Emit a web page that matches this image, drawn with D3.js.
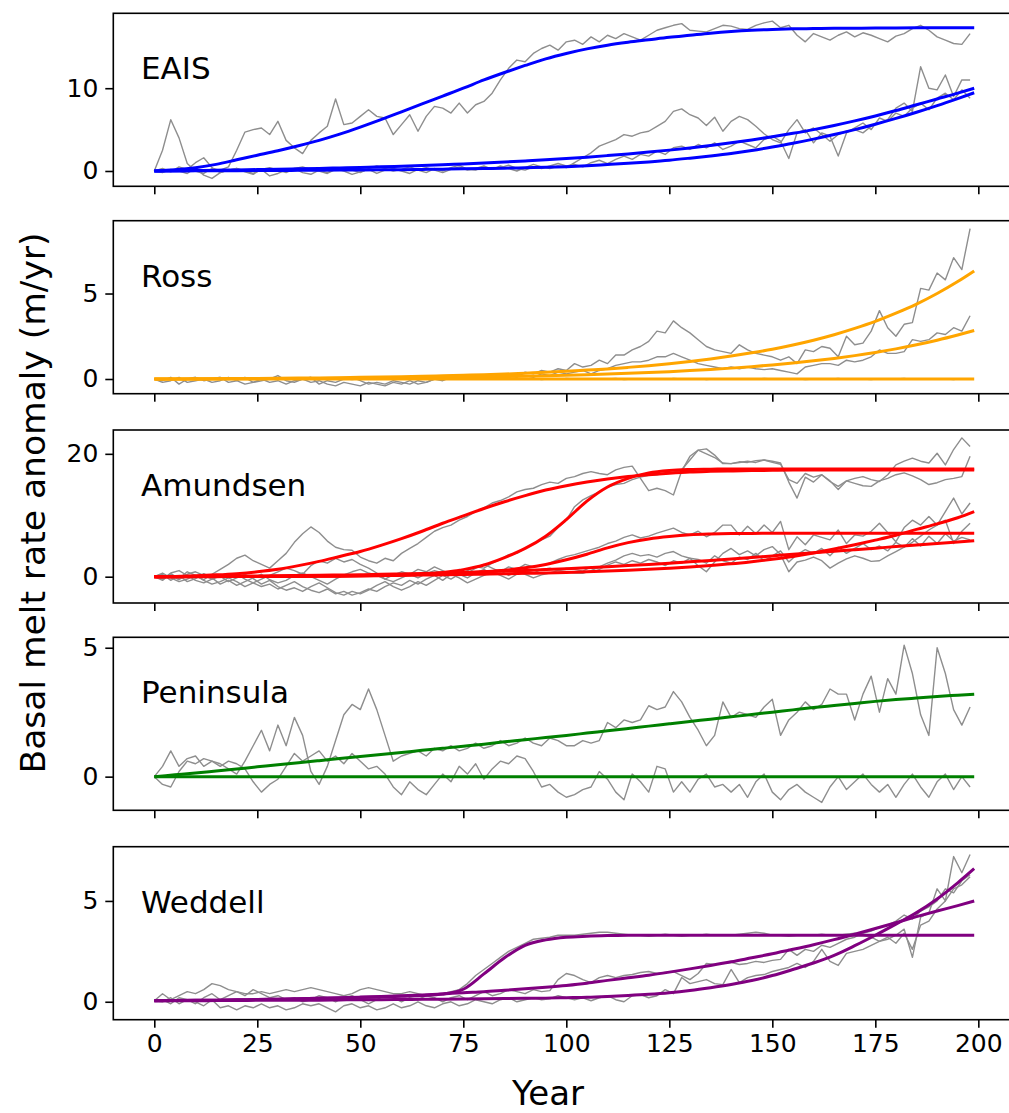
<!DOCTYPE html>
<html>
<head>
<meta charset="utf-8">
<script src="https://cdn.jsdelivr.net/npm/d3@7"></script>
<style>
  body { margin: 0; background: #fff; }
  svg { display: block; font-family: "DejaVu Sans", sans-serif; }
</style>
</head>
<body>
<svg id="chart" width="1009" height="1113"></svg>
<script>
// ---------------------------------------------------------------------------
// Basal melt rate anomaly (m/yr) per Antarctic region: annual model output
// (grey, sampled every second year) and fitted response curves (coloured).
// ---------------------------------------------------------------------------

const regions = ["EAIS", "Ross", "Amundsen", "Peninsula", "Weddell"];
const regionColors = ["#0000ff", "#ffa500", "#ff0000", "#008000", "#800080"];
const yTickValues = [[0, 10], [0, 5], [0, 20], [0, 5], [0, 5]];
const xTickValues = [0, 25, 50, 75, 100, 125, 150, 175, 200];

// sampling years of the grey series and of the fitted curves
const seriesYears = d3.range(0, 200, 2);
const fitYears = [0, 5, 10, 15, 20, 25, 30, 35, 40, 45, 50, 55, 60, 65, 70, 75, 80, 85, 90, 95,
  100, 105, 110, 115, 120, 125, 130, 135, 140, 145, 150, 155, 160, 165, 170, 175, 180, 185, 190, 195, 199];

// ---- EAIS ----
const eaisObs1 = [
  0.0, 2.5, 6.2, 4.0, 0.9, 0.0, -0.3, 0.3, 0.1, 0.5,
  2.5, 4.7, 5.0, 5.2, 4.4, 6.0, 3.7, 2.8, 2.1, 3.7,
  4.6, 5.4, 8.7, 5.6, 5.8, 6.6, 7.4, 6.6, 6.4, 4.4,
  5.6, 6.8, 4.8, 6.6, 7.8, 7.6, 7.0, 8.2, 7.0, 8.0,
  8.4, 9.4, 11.0, 12.4, 13.4, 13.2, 14.2, 14.8, 15.2, 14.6,
  15.6, 15.8, 15.3, 16.2, 15.6, 16.4, 16.0, 16.6, 16.2, 15.8,
  16.4, 17.0, 17.3, 17.6, 17.8, 17.0, 16.9, 16.8, 17.2, 17.6,
  17.5, 17.2, 17.1, 17.6, 17.9, 18.1, 17.3, 17.6, 16.4, 15.6,
  16.6, 16.2, 15.8, 16.4, 16.8, 16.2, 16.7, 16.4, 16.0, 15.6,
  16.3, 16.6, 17.2, 17.6, 17.0, 16.2, 15.8, 15.4, 15.3, 16.6];
const eaisObs2 = [
  0.0, 0.3, -0.1, 0.5, 0.2, 1.0, 1.6, 0.4, -0.2, 0.1,
  0.3, 0.0, -0.3, 0.2, 0.4, 0.1, -0.2, 0.3, 0.5, 0.2,
  0.0, -0.3, 0.2, 0.4, 0.1, -0.2, 0.3, 0.6, 0.3, 0.0,
  0.2, 0.5, 0.1, -0.2, 0.3, 0.0, 0.4, 0.7, 0.2, 0.1,
  0.5, 0.2, 0.6, 0.3, 0.0, 0.4, 0.8, 0.5, 0.3, 0.6,
  0.4, 1.0, 1.6, 2.2, 3.0, 3.4, 3.8, 4.4, 4.2, 4.6,
  4.8, 5.4, 6.0, 7.2, 7.5, 6.8, 6.4, 5.5, 6.5, 4.8,
  6.0, 6.6, 6.2, 5.4, 4.5, 3.8, 3.4, 5.0, 6.2, 4.6,
  5.2, 4.4, 3.6, 4.4, 4.8, 5.0, 4.6, 5.4, 5.8, 6.2,
  7.6, 8.2, 7.2, 12.6, 10.0, 9.8, 11.6, 9.0, 11.0, 11.0];
const eaisObs3 = [
  0.0, -0.2, 0.2, 0.0, -0.3, 0.4, -0.5, -0.9, -0.2, 0.1,
  0.3, -0.1, -0.4, 0.2, -0.6, -0.3, 0.1, 0.3, -0.2, -0.4,
  0.1, -0.2, 0.3, 0.0, -0.4, -0.1, 0.2, -0.3, 0.1, 0.3,
  0.0, -0.3, 0.2, 0.4, 0.1, -0.2, 0.2, 0.5, 0.1, 0.3,
  0.6, 0.2, 0.4, 0.7, 0.3, 0.1, 0.5, 0.3, 0.6, 0.9,
  0.6, 0.8, 0.5, 1.0, 1.3, 0.9, 1.4, 1.8, 1.4, 2.0,
  1.8, 2.4, 2.0, 2.8, 3.0, 2.6, 3.2, 2.8, 3.4, 2.6,
  3.0, 3.6, 3.2, 2.8, 3.8, 4.2, 3.6, 1.5, 4.6, 5.0,
  3.4, 4.6, 4.2, 1.8, 4.6, 5.2, 5.8, 5.0, 6.4, 6.0,
  7.0, 6.6, 7.6, 8.2, 7.4, 8.8, 9.4, 8.6, 9.8, 8.8];
const eaisFit1 = [0, 0.15, 0.4, 0.8, 1.35, 1.9, 2.45, 3.05, 3.7, 4.45,
  5.3, 6.2, 7.15, 8.1, 9.05, 10.0, 11.0, 11.9, 12.75, 13.55,
  14.2, 14.75, 15.2, 15.55, 15.85, 16.15, 16.4, 16.65, 16.85, 17.0,
  17.1, 17.17, 17.2, 17.23, 17.25, 17.27, 17.28, 17.29, 17.3, 17.3, 17.3];
const eaisFit2 = [0, 0.03, 0.06, 0.09, 0.13, 0.17, 0.21, 0.26, 0.31, 0.37,
  0.43, 0.5, 0.58, 0.66, 0.75, 0.85, 0.96, 1.08, 1.21, 1.35,
  1.5, 1.67, 1.86, 2.06, 2.28, 2.52, 2.79, 3.08, 3.4, 3.75,
  4.13, 4.55, 5.0, 5.5, 6.05, 6.65, 7.3, 8.0, 8.7, 9.4, 10.0];
const eaisFit3 = [0, 0.01, 0.02, 0.03, 0.04, 0.05, 0.06, 0.075, 0.09, 0.105,
  0.12, 0.14, 0.16, 0.19, 0.22, 0.26, 0.3, 0.34, 0.39, 0.44,
  0.52, 0.63, 0.78, 0.93, 1.1, 1.3, 1.55, 1.82, 2.12, 2.48,
  2.9, 3.35, 3.85, 4.4, 5.0, 5.65, 6.35, 7.1, 7.9, 8.75, 9.45];

// ---- Ross ----
const rossObs1 = [
  0, -0.1, 0.1, -0.3, 0.0, 0.1, -0.1, 0.0, 0.1, -0.2,
  -0.1, 0.1, -0.2, -0.1, 0.0, 0.2, -0.1, -0.2, 0.0, 0.1,
  -0.3, -0.1, -0.2, 0.0, 0.1, -0.1, -0.3, -0.2, -0.3, -0.1,
  -0.2, -0.3, -0.1, -0.2, 0.0, 0.0, 0.1, 0.0, 0.2, 0.1,
  0.2, 0.1, 0.3, 0.2, 0.1, 0.4, 0.3, 0.5, 0.4, 0.6,
  0.5, 0.9, 0.7, 0.8, 1.1, 0.9, 1.4, 1.4, 1.7, 1.9,
  2.2, 2.8, 2.7, 3.4, 3.0, 2.7, 2.3, 1.9, 1.7, 1.6,
  1.5, 2.0, 1.7, 1.5, 1.4, 1.3, 1.1, 1.3, 0.9, 1.7,
  1.6, 1.9, 1.8, 1.3, 2.5, 2.0, 2.1, 2.8, 4.0, 3.0,
  2.5, 3.2, 3.3, 5.3, 5.2, 6.2, 5.8, 7.1, 6.4, 8.8];
const rossObs2 = [
  0, -0.2, -0.1, 0.1, -0.2, -0.1, 0.0, -0.2, -0.1, 0.1,
  -0.1, -0.3, -0.2, 0.0, -0.2, -0.1, -0.3, -0.1, 0.0, -0.2,
  -0.1, -0.3, -0.4, -0.2, -0.3, -0.4, -0.2, -0.3, -0.4, -0.2,
  -0.3, -0.1, -0.3, -0.2, 0.0, -0.1, 0.1, 0.0, 0.1, 0.2,
  0.1, 0.0, 0.2, 0.1, 0.3, 0.2, 0.1, 0.3, 0.2, 0.4,
  0.3, 0.4, 0.5, 0.3, 0.5, 0.6, 0.8, 0.9, 1.0, 1.0,
  1.1, 1.3, 1.3, 1.5, 1.3, 1.1, 0.9, 0.8, 0.7, 0.6,
  0.7, 0.6, 0.7, 0.6, 0.55, 0.6, 0.5, 0.4, 0.3, 0.7,
  0.8, 0.9, 0.9, 0.8, 1.1, 1.0, 1.1, 1.3, 1.7, 1.5,
  1.5, 1.6, 2.3, 2.2, 2.3, 2.7, 2.6, 3.0, 2.8, 3.7];
const rossObs3 = [
  0, 0.02, -0.03, 0.01, -0.02, 0.03, 0, -0.01, 0.02, -0.03,
  0.01, 0.03, -0.02, 0, 0.02, -0.01, -0.03, 0.01, 0.02, -0.02,
  0, 0.03, -0.01, 0.01, -0.03, 0.02, 0, -0.02, 0.01, 0.03,
  -0.01, 0.02, -0.02, 0, 0.03, -0.03, 0.01, 0.02, -0.01, 0,
  0.02, -0.02, 0.01, 0.03, -0.01, 0, 0.02, -0.03, 0.01, -0.02,
  0.03, 0, -0.01, 0.02, -0.02, 0.01, 0.03, -0.03, 0, 0.02,
  -0.01, 0.01, -0.02, 0.03, 0, -0.01, 0.02, -0.03, 0.01, 0,
  0.02, -0.02, 0.01, -0.01, 0.03, 0, -0.02, 0.02, 0.01, -0.03,
  0, 0.02, -0.01, 0.03, -0.02, 0.01, 0, -0.03, 0.02, -0.01,
  0.01, 0.03, -0.02, 0, 0.02, -0.01, 0.01, -0.03, 0.02, 0];
const rossFit1 = [0, 0.005, 0.01, 0.02, 0.025, 0.035, 0.045, 0.055, 0.065, 0.08,
  0.1, 0.115, 0.135, 0.16, 0.19, 0.22, 0.25, 0.29, 0.34, 0.39,
  0.45, 0.52, 0.59, 0.68, 0.78, 0.89, 1.02, 1.17, 1.34, 1.53,
  1.74, 1.99, 2.27, 2.59, 2.96, 3.37, 3.85, 4.38, 5.0, 5.7, 6.32];
const rossFit2 = [0, 0.003, 0.006, 0.009, 0.013, 0.017, 0.022, 0.028, 0.034, 0.041,
  0.049, 0.058, 0.069, 0.081, 0.094, 0.109, 0.126, 0.146, 0.168, 0.193,
  0.221, 0.253, 0.29, 0.331, 0.378, 0.431, 0.491, 0.559, 0.636, 0.723,
  0.822, 0.934, 1.061, 1.205, 1.368, 1.553, 1.763, 2.0, 2.269, 2.574, 2.837];
const rossFit3 = [0, 0, 0, 0, 0, 0, 0, 0, 0, 0,
  0, 0, 0, 0, 0, 0, 0, 0, 0, 0,
  0, 0, 0, 0, 0, 0, 0, 0, 0, 0,
  0, 0, 0, 0, 0, 0, 0, 0, 0, 0, 0];

// ---- Amundsen ----
const amundsenObs1 = [
  0, -0.6, 0.5, -0.3, 0.8, 0.2, -0.5, 0.4, 1.2, 2.0,
  3.0, 3.5, 2.6, 2.0, 1.4, 2.6, 3.8, 5.6, 7.0, 8.1,
  7.2, 5.8, 4.8, 4.4, 4.3, 3.2, 2.6, 2.2, 3.0, 2.6,
  3.8, 4.6, 5.4, 6.4, 7.4, 8.0, 8.4, 9.2, 9.8, 10.6,
  11.2, 12.0, 12.4, 13.0, 13.8, 14.2, 14.4, 15.0, 15.4, 15.2,
  16.0, 16.3, 16.8, 17.1, 16.8, 16.6, 17.4, 17.8, 18.0, 16.0,
  14.0, 14.4, 14.0, 13.3, 17.2, 19.6, 20.6, 20.8, 19.8, 18.4,
  18.4, 18.6, 18.8, 18.6, 19.0, 18.8, 18.5, 15.4, 12.8, 16.2,
  15.4, 16.6, 15.6, 14.2, 15.6, 16.0, 16.3, 15.8, 15.5, 16.6,
  18.2, 18.8, 19.3, 18.8, 18.5, 20.1, 18.2, 20.7, 22.6, 21.2];
const amundsenObs2 = [
  0, 0.4, -0.6, 0.2, -0.8, -0.3, 0.5, -0.2, -1.2, -0.6,
  -1.4, -0.8, -0.2, 0.4, -0.5, -1.0, -0.6, 0.2, 0.6, 0.0,
  -0.6, -1.2, -0.4, 0.3, 0.8, 1.2, 0.6, 0.2, -0.4, 0.3,
  0.8, 0.4, -0.2, 0.5, 1.0, 0.6, 0.5, 0.2, 1.0, 1.6,
  1.4, 2.2, 2.8, 3.6, 3.8, 4.6, 5.4, 6.0, 6.6, 8.0,
  9.2, 11.4, 12.5, 13.2, 13.8, 14.6, 15.0, 15.2, 15.8, 16.2,
  16.5, 16.6, 16.9, 17.0, 17.4, 19.0, 20.6, 20.0, 19.4, 18.5,
  18.4, 18.7, 18.6, 18.9, 19.0, 18.6, 18.3, 15.8, 15.2, 16.8,
  16.2, 16.6, 15.5, 14.7, 15.6, 15.2, 14.8, 14.7, 15.6, 16.0,
  16.6, 16.9, 16.4, 15.8, 15.0, 15.3, 15.8, 16.0, 16.3, 19.6];
const amundsenObs3 = [
  0, -0.4, 0.6, 1.0, 0.2, -0.6, -1.0, -0.4, 0.3, -0.2,
  -0.8, -1.6, -1.0, -0.4, 0.2, 0.8, 1.4, 1.0, 0.4, 1.8,
  2.6, 2.2, 3.0, 2.4, 2.8, 2.0, 1.4, 0.6, -0.4, -0.8,
  -0.2, 0.4, 1.2, 0.8, 1.6, 1.0, 0.4, 1.2, 0.6, 1.4,
  2.0, 1.4, 0.8, 1.6, 1.2, 2.0, 1.6, 1.8, 2.2, 2.8,
  3.3, 3.6, 4.0, 4.4, 4.8, 5.4, 5.8, 6.4, 6.8, 6.3,
  6.6, 7.1, 7.5, 7.9, 7.2, 6.8, 7.4, 6.5, 7.2, 8.4,
  8.4, 6.8, 8.2, 7.0, 8.4, 7.2, 9.0, 4.4, 6.5, 5.2,
  6.8, 6.4, 6.0, 7.6, 5.4, 6.8, 6.6, 7.4, 8.7, 7.2,
  5.7, 8.0, 9.2, 8.4, 9.8, 8.4, 10.6, 12.8, 10.2, 12.0];
const amundsenObs4 = [
  0, 0.6, -0.2, -0.8, -0.4, 0.2, -0.6, -1.2, -0.8, -0.2,
  0.4, -0.4, -1.0, -1.6, -1.2, -2.0, -1.4, -0.8, -1.6, -2.2,
  -2.6, -2.0, -2.8, -2.4, -3.0, -2.6, -2.0, -2.4, -1.6, -1.0,
  -1.4, -0.6, -1.2, -0.4, 0.2, -0.6, 0.4, -0.2, -1.0, -0.4,
  0.2, 0.8, 0.2, -0.4, 0.4, 1.0, 0.6, 1.2, 1.4, 1.0,
  0.8, 0.6, 0.55, 1.0, 1.6, 2.2, 2.7, 3.4, 3.8, 3.4,
  3.6, 3.2, 3.8, 4.1, 3.4, 3.0, 1.8, 0.8, 2.4, 3.8,
  4.6, 3.6, 4.2, 3.4, 4.4, 4.9, 3.6, 0.8, 2.4, 2.7,
  3.2, 2.6, 1.4, 2.2, 2.9, 3.4, 3.0, 2.5, 2.6, 3.4,
  4.1, 4.8, 5.6, 6.6, 7.6, 8.4, 9.2, 5.4, 7.4, 8.7];
const amundsenObs5 = [
  0, -0.3, 0.3, -0.5, 0.4, 0.8, 0.2, -0.4, 0.1, -0.8,
  -0.2, 0.4, -0.3, -1.2, -0.6, -1.6, -2.2, -1.8, -2.4, -1.6,
  -1.0, -1.8, -2.6, -3.0, -2.4, -2.8, -2.2, -1.4, -0.8, -1.6,
  -2.2, -1.6, -0.8, -1.4, -0.6, 0.2, -0.4, 0.4, -0.2, 0.6,
  1.2, 0.4, 1.0, 0.2, 0.8, 0.4, -0.2, 0.3, 0.6, 1.0,
  1.4, 1.2, 0.9, 1.6, 1.2, 1.9, 2.4, 2.0, 2.6, 2.2,
  2.8, 2.4, 1.8, 2.6, 2.2, 3.0, 2.8, 2.2, 3.4, 2.6,
  2.2, 3.2, 2.8, 3.8, 2.6, 3.4, 4.2, 2.4, 3.6, 4.4,
  3.8, 4.6, 3.4, 4.8, 3.8, 4.6, 5.4, 4.4, 5.0, 4.2,
  5.6, 4.8, 6.2, 5.0, 6.6, 5.4, 7.0, 5.8, 6.4, 6.0];
const amundsenFit1 = [0, 0.05, 0.15, 0.3, 0.5, 0.8, 1.2, 1.8, 2.5, 3.3,
  4.1, 5.1, 6.2, 7.4, 8.7, 9.9, 11.1, 12.2, 13.2, 14.1,
  14.8, 15.4, 15.9, 16.3, 16.6, 16.85, 17.05, 17.15, 17.22, 17.28,
  17.32, 17.35, 17.35, 17.35, 17.35, 17.35, 17.35, 17.35, 17.35, 17.35, 17.35];
const amundsenFit2 = [0, 0, 0.01, 0.01, 0.02, 0.03, 0.04, 0.05, 0.07, 0.09,
  0.12, 0.17, 0.26, 0.42, 0.7, 1.15, 1.9, 3.1, 4.6, 6.6,
  9.3, 12.3, 14.6, 16.0, 16.9, 17.3, 17.45, 17.5, 17.55, 17.55,
  17.55, 17.55, 17.55, 17.55, 17.55, 17.55, 17.55, 17.55, 17.55, 17.55, 17.55];
const amundsenFit3 = [0, 0.01, 0.02, 0.03, 0.04, 0.05, 0.07, 0.09, 0.11, 0.14,
  0.18, 0.23, 0.29, 0.37, 0.47, 0.6, 0.8, 1.05, 1.45, 2.0,
  2.75, 3.65, 4.7, 5.55, 6.15, 6.55, 6.82, 6.95, 7.02, 7.05,
  7.06, 7.07, 7.07, 7.07, 7.07, 7.07, 7.07, 7.07, 7.07, 7.07, 7.07];
const amundsenFit4 = [0, 0.01, 0.02, 0.03, 0.04, 0.05, 0.06, 0.08, 0.1, 0.12,
  0.15, 0.18, 0.22, 0.26, 0.31, 0.36, 0.42, 0.48, 0.55, 0.62,
  0.7, 0.8, 0.92, 1.05, 1.2, 1.38, 1.58, 1.82, 2.1, 2.45,
  2.85, 3.3, 3.85, 4.5, 5.2, 5.95, 6.75, 7.7, 8.6, 9.6, 10.6];
const amundsenFit5 = [0, 0.02, 0.04, 0.06, 0.09, 0.12, 0.15, 0.19, 0.23, 0.28,
  0.33, 0.39, 0.46, 0.53, 0.61, 0.7, 0.8, 0.91, 1.03, 1.16,
  1.3, 1.46, 1.63, 1.81, 2.0, 2.2, 2.42, 2.65, 2.89, 3.14,
  3.39, 3.64, 3.9, 4.15, 4.4, 4.65, 4.9, 5.15, 5.4, 5.65, 5.87];

// ---- Peninsula ----
const peninsulaObs1 = [
  0, 0.4, 1.0, 0.4, 0.7, 0.8, 0.4, 0.6, 0.5, 0.3,
  0.1, 0.6, 1.2, 1.8, 1.0, 2.0, 1.2, 2.3, 1.6, 0.2,
  -0.3, 0.4, 1.4, 2.4, 2.8, 2.6, 3.4, 2.6, 1.6, 0.6,
  0.8, 0.9, 1.0, 0.8, 1.1, 1.0, 1.2, 1.0, 1.1, 1.3,
  1.1, 1.2, 1.4, 1.2, 1.3, 1.5, 1.3, 1.2, 1.5, 1.4,
  1.2, 1.2, 1.4, 1.3, 1.4, 2.1, 1.9, 2.2, 2.1, 2.2,
  2.75, 2.6, 2.7, 3.3, 2.9, 2.3, 1.8, 1.2, 1.6, 2.9,
  2.3, 2.5, 2.4, 2.3, 2.7, 3.0, 1.6, 2.2, 2.5, 2.9,
  2.6, 2.8, 3.4, 3.2, 3.2, 2.2, 3.2, 3.9, 2.5, 3.8,
  3.2, 5.1, 4.0, 2.4, 1.6, 5.0, 4.0, 2.6, 2.0, 2.7];
const peninsulaObs2 = [
  0, -0.3, -0.4, 0.2, 0.6, 0.5, 0.7, 0.6, 0.4, 0.6,
  0.5, 0.3, -0.2, -0.6, -0.3, -0.1, 0.4, 0.9, 0.6, 0.8,
  1.0, 0.6, 0.8, 0.5, 0.9, 0.6, 0.3, 0.4, 0.1, -0.4,
  -0.7, -0.2, -0.5, -0.7, -0.3, 0.1, -0.2, 0.4, 0.1, 0.5,
  -0.1, 0.3, 0.6, 0.5, 0.8, 0.7, 0.2, -0.4, -0.3, -0.6,
  -0.8, -0.7, -0.5, -0.4, 0.2, -0.1, -0.6, -0.9, 0.1, -0.2,
  -0.6, 0.4, 0.3, -0.6, -0.2, -0.6, -0.1, 0.1, -0.4, -0.3,
  -0.6, -0.3, -0.8, -0.2, 0.1, -0.6, -0.9, -0.5, -0.3, -0.6,
  -0.8, -1.0, -0.4, 0.0, -0.5, -0.2, 0.1, -0.3, -0.6, -0.3,
  -0.8, -0.3, 0.1, -0.4, -0.8, -0.2, 0.1, -0.5, 0.0, -0.4];
const peninsulaFit1 = [0, 0.07, 0.14, 0.22, 0.3, 0.38, 0.46, 0.54, 0.62, 0.7,
  0.78, 0.86, 0.94, 1.02, 1.1, 1.18, 1.26, 1.35, 1.43, 1.52,
  1.6, 1.69, 1.78, 1.87, 1.96, 2.05, 2.14, 2.23, 2.32, 2.41,
  2.5, 2.59, 2.68, 2.76, 2.84, 2.92, 2.99, 3.05, 3.11, 3.16, 3.2];
const peninsulaFit2 = [0, 0, 0, 0, 0, 0, 0, 0, 0, 0,
  0, 0, 0, 0, 0, 0, 0, 0, 0, 0,
  0, 0, 0, 0, 0, 0, 0, 0, 0, 0,
  0, 0, 0, 0, 0, 0, 0, 0, 0, 0, 0];

// ---- Weddell ----
const weddellObs1 = [
  0.05, 0.4, 0.1, 0.3, 0.5, 0.4, 0.6, 0.9, 0.8, 0.6,
  0.5, 0.4, 0.4, 0.5, 0.4, 0.5, 0.6, 0.5, 0.6, 0.7,
  0.6, 0.5, 0.4, 0.3, 0.4, 0.6, 0.7, 0.6, 0.5, 0.4,
  0.4, 0.5, 0.4, 0.3, 0.4, 0.4, 0.5, 0.6, 0.9, 1.3,
  1.6, 1.9, 2.2, 2.5, 2.7, 2.9, 3.1, 3.15, 3.2, 3.3,
  3.3, 3.3, 3.35, 3.4, 3.45, 3.45, 3.4, 3.35, 3.3, 3.3,
  3.25, 3.3, 3.35, 3.3, 3.25, 3.3, 3.3, 3.35, 3.3, 3.3,
  3.3, 3.35, 3.4, 3.45, 3.4, 3.3, 3.3, 3.25, 3.3, 3.3,
  3.3, 3.35, 3.3, 3.3, 3.35, 3.4, 3.3, 3.2, 3.0, 3.2,
  2.9, 3.4, 2.6, 3.8, 4.0, 4.6, 5.0, 5.6, 5.8, 6.2];
const weddellObs2 = [
  0.05, 0.1, -0.1, 0.2, 0.1, -0.1, 0.2, 0.4, 0.1, 0.3,
  0.5, 0.3, 0.6, 0.4, 0.2, 0.3, 0.1, 0.2, 0.0, 0.1,
  0.3, 0.2, 0.0, 0.2, 0.3, 0.1, -0.1, 0.1, 0.3, 0.2,
  0.0, 0.2, 0.1, 0.3, 0.2, 0.0, 0.2, 0.3, 0.1, 0.3,
  0.5, 0.3, 0.4, 0.6, 0.5, 0.4, 0.6, 0.5, 0.55, 1.1,
  1.4, 1.3, 1.1, 0.95, 1.2, 1.3, 1.2, 1.3, 1.35, 1.45,
  1.5, 1.4, 1.45, 1.5, 1.3, 1.1, 1.4, 1.9, 1.85, 1.9,
  1.95, 1.85, 1.9, 2.0, 1.95, 2.05, 2.1, 2.6, 2.3, 2.6,
  2.5, 2.8, 2.7, 2.9, 3.1, 3.2, 3.4, 3.5, 3.7, 3.8,
  4.0, 4.3, 4.1, 4.5, 4.7, 5.0, 5.6, 5.4, 6.0, 6.3];
const weddellObs3 = [
  0.05, 0.0, 0.2, -0.1, 0.1, 0.0, -0.2, 0.1, -0.3, -0.2,
  -0.4, -0.2, -0.3, -0.1, -0.3, -0.2, -0.4, -0.3, -0.1, -0.2,
  -0.1, -0.3, -0.5, -0.2, -0.1, -0.3, -0.2, -0.4, -0.3, -0.1,
  -0.3, -0.2, 0.0, -0.2, -0.3, -0.1, 0.0, -0.2, -0.1, 0.1,
  0.0, -0.1, 0.1, 0.2, 0.0, 0.1, 0.2, 0.1, 0.15, 0.3,
  0.2, 0.1, 0.2, 0.05, 0.2, 0.3, 0.1, 0.0, 0.3, 0.35,
  0.2, 0.3, 0.6, 0.4, 1.2, 0.9, 1.0, 1.1, 0.9, 0.85,
  1.6, 0.95, 1.2, 1.3, 1.35, 1.5, 1.6, 1.7, 1.9, 1.7,
  2.0, 2.6, 2.0, 1.8, 2.4, 2.5, 2.6, 2.8, 3.0, 3.1,
  3.3, 3.6, 2.2, 4.2, 4.4, 5.6, 5.0, 7.2, 6.4, 7.3];
const weddellFit1 = [0.05, 0.06, 0.07, 0.08, 0.1, 0.11, 0.13, 0.15, 0.17, 0.19,
  0.21, 0.24, 0.27, 0.31, 0.38, 0.62, 1.38, 2.18, 2.8, 3.07,
  3.2, 3.25, 3.28, 3.3, 3.3, 3.3, 3.3, 3.3, 3.3, 3.3,
  3.3, 3.3, 3.3, 3.3, 3.3, 3.3, 3.3, 3.3, 3.3, 3.3, 3.3];
const weddellFit2 = [0.05, 0.05, 0.05, 0.06, 0.06, 0.07, 0.07, 0.08, 0.08, 0.09,
  0.1, 0.1, 0.11, 0.12, 0.13, 0.14, 0.15, 0.16, 0.17, 0.18,
  0.2, 0.22, 0.26, 0.31, 0.37, 0.45, 0.56, 0.7, 0.86, 1.05,
  1.3, 1.6, 1.92, 2.3, 2.78, 3.3, 3.85, 4.42, 5.1, 5.9, 6.6];
const weddellFit3 = [0.05, 0.06, 0.07, 0.08, 0.1, 0.11, 0.13, 0.15, 0.17, 0.2,
  0.23, 0.26, 0.3, 0.34, 0.39, 0.45, 0.5, 0.57, 0.64, 0.72,
  0.81, 0.92, 1.06, 1.19, 1.32, 1.47, 1.63, 1.8, 1.98, 2.18,
  2.38, 2.6, 2.83, 3.08, 3.35, 3.63, 3.92, 4.22, 4.5, 4.77, 5.0];

const observed = [
  [eaisObs1, eaisObs2, eaisObs3],
  [rossObs1, rossObs2, rossObs3],
  [amundsenObs1, amundsenObs2, amundsenObs3, amundsenObs4, amundsenObs5],
  [peninsulaObs1, peninsulaObs2],
  [weddellObs1, weddellObs2, weddellObs3]
];
const fitted = [
  [eaisFit1, eaisFit2, eaisFit3],
  [rossFit1, rossFit2, rossFit3],
  [amundsenFit1, amundsenFit2, amundsenFit3, amundsenFit4, amundsenFit5],
  [peninsulaFit1, peninsulaFit2],
  [weddellFit1, weddellFit2, weddellFit3]
];

// ---------------------------------------------------------------------------
// layout
const svg = d3.select("#chart");
const plotLeft = 113.3, plotRight = 1015.2;
const panelTops = [13.3, 220.7, 430, 637.3, 846.7];
const panelHeight = 173;
const fontFamily = "'DejaVu Sans', sans-serif";

// axis limits with a 5% margin on each side of the data
function withMargin(ext) {
  const r = ext[1] - ext[0];
  return [ext[0] - 0.05 * r, ext[1] + 0.05 * r];
}

const x = d3.scaleLinear()
  .domain(withMargin([0, 199]))
  .range([plotLeft, plotRight]);

regions.forEach((name, i) => {
  const top = panelTops[i];
  const bottom = top + panelHeight;
  const allValues = observed[i].flat().concat(fitted[i].flat());
  const y = d3.scaleLinear()
    .domain(withMargin(d3.extent(allValues)))
    .range([bottom, top]);

  const panel = svg.append("g").attr("class", "panel");

  panel.append("clipPath").attr("id", "clip" + i)
    .append("rect")
    .attr("x", plotLeft).attr("y", top)
    .attr("width", plotRight - plotLeft).attr("height", panelHeight);

  const marks = panel.append("g").attr("clip-path", `url(#clip${i})`);

  const obsLine = d3.line()
    .x((d, j) => x(seriesYears[j]))
    .y(d => y(d));
  const fitLine = d3.line()
    .x((d, j) => x(fitYears[j]))
    .y(d => y(d))
    .curve(d3.curveMonotoneX);

  marks.selectAll("path.obs")
    .data(observed[i])
    .join("path")
    .attr("class", "obs")
    .attr("d", obsLine)
    .attr("fill", "none")
    .attr("stroke", "#8e8e8e")
    .attr("stroke-width", 1.4)
    .attr("stroke-linejoin", "round");

  marks.selectAll("path.fit")
    .data(fitted[i])
    .join("path")
    .attr("class", "fit")
    .attr("d", fitLine)
    .attr("fill", "none")
    .attr("stroke", regionColors[i])
    .attr("stroke-width", 3)
    .attr("stroke-linejoin", "round")
    .attr("stroke-linecap", "butt");

  // frame
  panel.append("rect")
    .attr("x", plotLeft).attr("y", top)
    .attr("width", plotRight - plotLeft).attr("height", panelHeight)
    .attr("fill", "none")
    .attr("stroke", "#000")
    .attr("stroke-width", 1.6);

  // y axis
  const yAxis = d3.axisLeft(y)
    .tickValues(yTickValues[i])
    .tickSize(8)
    .tickPadding(7)
    .tickFormat(d3.format("d"));
  const yg = panel.append("g")
    .attr("transform", `translate(${plotLeft},0)`)
    .call(yAxis)
    .attr("font-size", 25)
    .attr("font-family", fontFamily);
  yg.select(".domain").remove();
  yg.selectAll(".tick line").attr("stroke", "#000").attr("stroke-width", 1.6);
  yg.selectAll(".tick text").attr("fill", "#000");

  // x axis (labels on the bottom panel only)
  const xAxis = d3.axisBottom(x)
    .tickValues(xTickValues)
    .tickSize(8)
    .tickPadding(7)
    .tickFormat(i === regions.length - 1 ? d3.format("d") : () => "");
  const xg = panel.append("g")
    .attr("transform", `translate(0,${bottom})`)
    .call(xAxis)
    .attr("font-size", 25)
    .attr("font-family", fontFamily);
  xg.select(".domain").remove();
  xg.selectAll(".tick line").attr("stroke", "#000").attr("stroke-width", 1.6);
  xg.selectAll(".tick text").attr("fill", "#000");

  // region name
  panel.append("text")
    .attr("x", 141)
    .attr("y", top + 66)
    .attr("font-size", 31)
    .attr("font-family", fontFamily)
    .attr("fill", "#000")
    .text(name);
});

// shared axis titles
svg.append("text")
  .attr("transform", "translate(45,503) rotate(-90)")
  .attr("text-anchor", "middle")
  .attr("font-size", 34.5)
  .attr("font-family", fontFamily)
  .attr("fill", "#000")
  .text("Basal melt rate anomaly (m/yr)");

svg.append("text")
  .attr("x", 548)
  .attr("y", 1105)
  .attr("text-anchor", "middle")
  .attr("font-size", 34)
  .attr("font-family", fontFamily)
  .attr("fill", "#000")
  .text("Year");
</script>
</body>
</html>
